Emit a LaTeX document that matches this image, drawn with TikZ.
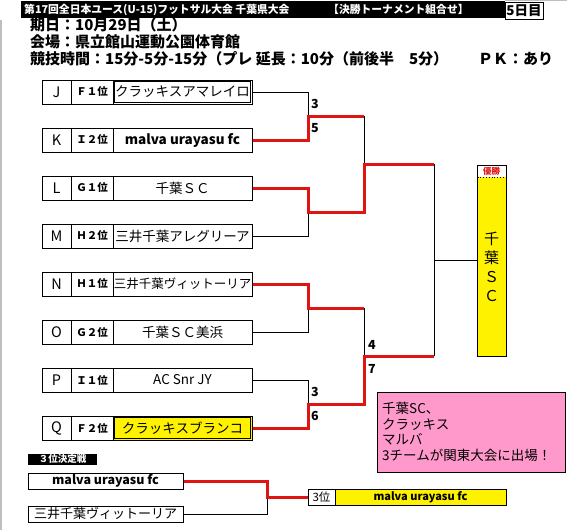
\documentclass[tikz,border=0pt]{standalone}
\usepackage{fontspec}
\setmainfont{Noto Sans CJK JP}
\definecolor{redline}{RGB}{225,20,20}
\definecolor{pinkbox}{RGB}{255,153,204}
\definecolor{gridgray}{RGB}{190,190,190}
\tikzset{
  cell/.style={draw, inner sep=0pt, minimum height=24, anchor=center, line width=1pt},
  lcell/.style={cell, minimum width=29, font=\fontsize{14.5}{15}\selectfont},
  rcell/.style={cell, minimum width=42, font=\bfseries\fontsize{10.5}{11}\selectfont},
  ncell/.style={cell, minimum width=139, font=\fontsize{13.5}{14}\selectfont},
  innerframe/.style={draw, line width=0.8pt},
  thin/.style={draw=black, line width=1pt},
  win/.style={draw=redline, line width=3pt, line join=miter},
  score/.style={font=\bfseries\fontsize{12.5}{13}\selectfont, inner sep=0pt},
  info/.style={anchor=west, inner sep=0pt, font=\bfseries\fontsize{15}{15}\selectfont},
  tbox/.style={draw, line width=1pt, inner sep=0pt, minimum width=155, minimum height=16, font=\bfseries\fontsize{12.5}{13}\selectfont}
}
\newcommand\teamrow[6][]{%
  \node[lcell] (l#2) at (56.5,#3) {#4};
  \node[rcell] (r#2) at (92,#3) {#5};
  \node[ncell,#1] (n#2) at (182.5,#3) {#6};
}
\begin{document}
\begin{tikzpicture}[x=1pt,y=-1pt]
\useasboundingbox (0,0) rectangle (567,530);
\fill[white] (0,0) rectangle (567,530);
% grid edge
\draw[gridgray, line width=1.5pt] (1,20) -- (1,530);
\draw[gridgray, line width=1pt] (505,0.5) -- (567,0.5);

% header bar
\fill[black] (21,1) rectangle (505,18);
\node[anchor=west, inner sep=0pt, text=white, font=\bfseries\fontsize{10.8}{11}\selectfont] (title) at (24,9.5) {第17回全日本ユース(U-15)フットサル大会 千葉県大会};
\node[anchor=west, inner sep=0pt, text=white, font=\bfseries\fontsize{10.8}{11}\selectfont] (title2) at (328,9.5) {【決勝トーナメント組合せ】};
\node[draw, line width=0.8pt, fill=white, inner sep=0pt, minimum width=38, minimum height=17, font=\bfseries\fontsize{13.5}{14}\selectfont] (day) at (524,10.5) {5日目};

% info lines
\node[info] (date) at (30,25) {期日：10月29日（土）};
\node[info] (venue) at (30,42) {会場：県立館山運動公園体育館};
\node[info] (time) at (30,59) {競技時間：15分-5分-15分（プレ 延長：10分（前後半\quad 5分）\qquad ＰＫ：あり};

% team rows
\teamrow{J}{92}{J}{Ｆ１位}{クラッキスアマレイロ}
\teamrow{K}{140}{K}{Ｉ２位}{\bfseries malva urayasu fc}
\teamrow{L}{188}{L}{Ｇ１位}{千葉ＳＣ}
\teamrow{M}{236}{M}{Ｈ２位}{三井千葉アレグリーア}
\teamrow[font=\fontsize{12.5}{13}\selectfont]{N}{284}{N}{Ｈ１位}{三井千葉ヴィットーリア}
\teamrow{O}{332}{O}{Ｇ２位}{千葉ＳＣ美浜}
\teamrow{P}{380}{P}{Ｉ１位}{AC Snr JY}
\teamrow[fill=yellow]{Q}{428}{Q}{Ｆ２位}{クラッキスブランコ}
\draw[innerframe] ([shift={(2,2)}]nJ.north west) rectangle ([shift={(-2,-2)}]nJ.south east);
\draw[innerframe] ([shift={(2,2)}]nQ.north west) rectangle ([shift={(-2,-2)}]nQ.south east);

% bracket coordinates
\coordinate (a1) at (308,116);
\coordinate (a2) at (308,212);
\coordinate (a3) at (308,308);
\coordinate (a4) at (308,404);
\coordinate (b1) at (364,164);
\coordinate (b2) at (364,356);
\coordinate (c) at (434,260);

% champion box
\node[draw, line width=1pt, fill=yellow, inner sep=0pt, minimum width=29, minimum height=191] (champ) at (491.5,260.5) {};
\fill[white] (477.5,165.5) rectangle (505.5,177);
\draw[dotted, line width=0.8pt] (477.5,177.5) -- (505.5,177.5);
\node[text=redline, inner sep=0pt, font=\bfseries\fontsize{8.5}{9}\selectfont] (yusho) at (491.5,171) {優勝};
\node[align=center, inner sep=0pt, font=\fontsize{15}{19}\selectfont] (champname) at (491.5,267) {千\\葉\\Ｓ\\Ｃ};

% losing (black) lines
\draw[thin] (nJ.east) -| (a1);
\draw[thin] (nM.east) -| (a2);
\draw[thin] (nO.east) -| (a3);
\draw[thin] (nP.east) -| (a4);
\draw[thin] (a1 -| b1) -- (b1);
\draw[thin] (a3 -| b2) -- (b2);
\draw[thin] (b1 -| c) -- (b2 -| c);
\draw[thin] (c) -- (champ.west |- c);

% winning (red) lines
\draw[win] (nK.east) -| (a1) -- (a1 -| b1);
\draw[win] (nL.east) -| (a2) -- (a2 -| b1) -- (b1) -- (b1 -| c);
\draw[win] (nN.east) -| (a3) -- (a3 -| b2);
\draw[win] (nQ.east) -| (a4) -- (a4 -| b2) -- (b2) -- (b2 -| c);

% scores
\node[score, anchor=west] (s1) at (311,104) {3};
\node[score, anchor=west] (s2) at (311,128) {5};
\node[score, anchor=west] (s3) at (311,392) {3};
\node[score, anchor=west] (s4) at (311,416) {6};
\node[score, anchor=west] (s5) at (368,345) {4};
\node[score, anchor=west] (s6) at (368,369) {7};

% pink note
\node[draw, line width=1.8pt, fill=pinkbox, minimum width=188, minimum height=80, inner sep=0pt] (note) at (471.5,432.5) {};
\node[anchor=north west, align=left, inner sep=0pt, font=\fontsize{13.5}{15.5}\selectfont] (notetext) at (382,402) {千葉SC、\\クラッキス\\マルバ\\3チームが関東大会に出場！};

% third place
\node[fill=black, text=white, inner sep=0pt, minimum width=69, minimum height=11, font=\bfseries\fontsize{9.5}{10}\selectfont] (thirdlabel) at (62.5,459) {３位決定戦};
\node[tbox] (t1) at (105.5,481) {malva urayasu fc};
\node[tbox, font=\fontsize{13}{13}\selectfont] (t2) at (105.5,514) {三井千葉ヴィットーリア};
\coordinate (d) at (267,497);
\node[draw, line width=1pt, fill=white, inner sep=0pt, minimum width=27, minimum height=16, font=\fontsize{11.5}{12}\selectfont] (third) at (321.5,497) {3位};
\node[draw, line width=1pt, fill=yellow, inner sep=0pt, minimum width=171, minimum height=16, font=\bfseries\fontsize{11}{11}\selectfont] (thirdname) at (420.5,497) {malva urayasu fc};
\draw[thin] (t2.east) -| (d);
\draw[win] (t1.east) -| (d) -- (third.west);
\end{tikzpicture}
\end{document}
